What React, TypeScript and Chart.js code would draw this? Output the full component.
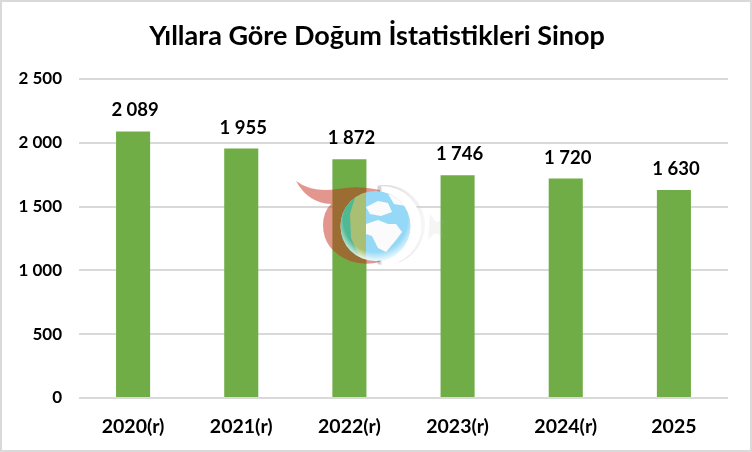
import React, { useEffect, useRef } from "react";
import { Chart, registerables } from "chart.js";

Chart.register(...registerables);

const categories = ["2020(r)", "2021(r)", "2022(r)", "2023(r)", "2024(r)", "2025"];
const births = [2089, 1955, 1872, 1746, 1720, 1630];
const titleText = "Yıllara Göre Doğum İstatistikleri Sinop";
const FONT = "Lato, 'Open Sans', sans-serif";

const fmt = (v: number) => {
  const s = String(v);
  return s.length > 3 ? s.slice(0, -3) + " " + s.slice(-3) : s;
};

const framePlugin = {
  id: "frame",
  beforeDraw(chart: any) {
    const { ctx, width, height } = chart;
    ctx.save();
    ctx.fillStyle = "#ffffff";
    ctx.fillRect(0, 0, width, height);
    ctx.strokeStyle = "#d9d9d9";
    ctx.lineWidth = 2;
    ctx.strokeRect(1, 1, width - 2, height - 2);
    ctx.restore();
  },
};

const labelPlugin = {
  id: "barLabels",
  afterDatasetsDraw(chart: any) {
    const { ctx } = chart;
    const meta = chart.getDatasetMeta(0);
    ctx.save();
    ctx.font = `700 18.5px ${FONT}`;
    ctx.fillStyle = "#000";
    ctx.textAlign = "center";
    ctx.textBaseline = "alphabetic";
    meta.data.forEach((bar: any, i: number) => {
      ctx.fillText(fmt(births[i]), bar.x + 2, bar.y - 15);
    });
    ctx.restore();
  },
};

const poly = (ctx: any, pts: number[][]) => {
  ctx.beginPath();
  pts.forEach((p, i) => (i ? ctx.lineTo(p[0], p[1]) : ctx.moveTo(p[0], p[1])));
  ctx.closePath();
  ctx.fill();
};

const watermarkPlugin = {
  id: "watermark",
  afterDraw(chart: any) {
    const { ctx } = chart;
    const cx = 375.5;
    const cy = 226;
    const r = 35;
    ctx.save();
    // faint star
    ctx.fillStyle = "rgba(176,176,176,0.12)";
    poly(ctx, [
      [430, 214],
      [436, 222],
      [447, 219],
      [440, 228],
      [445, 238],
      [435, 233],
      [428, 240],
    ]);
    // grey crescent
    const grey = ctx.createLinearGradient(376, 0, 426, 0);
    grey.addColorStop(0, "rgba(190,190,190,0.7)");
    grey.addColorStop(1, "rgba(215,215,215,0.2)");
    ctx.fillStyle = grey;
    ctx.beginPath();
    ctx.arc(385, 225, 40, -Math.PI * 0.56, Math.PI * 0.56);
    ctx.closePath();
    ctx.fill();
    // white ring between the grey crescent and the globe
    ctx.fillStyle = "#ffffff";
    ctx.beginPath();
    ctx.arc(cx + 6, cy, r + 5, -Math.PI / 2, Math.PI / 2);
    ctx.closePath();
    ctx.fill();
    // red crescent with tail
    ctx.fillStyle = "rgba(200,45,30,0.5)";
    ctx.beginPath();
    ctx.moveTo(296, 181);
    ctx.quadraticCurveTo(312, 193, 338, 189);
    ctx.quadraticCurveTo(358, 185, 380, 190);
    ctx.lineTo(380, 262);
    ctx.quadraticCurveTo(365, 266, 350, 261);
    ctx.quadraticCurveTo(323, 250, 323, 225);
    ctx.quadraticCurveTo(323, 212, 331, 204);
    ctx.quadraticCurveTo(308, 203, 296, 181);
    ctx.closePath();
    ctx.fill();
    // globe
    ctx.fillStyle = "#96d9f6";
    ctx.beginPath();
    ctx.arc(cx, cy, r, 0, Math.PI * 2);
    ctx.fill();
    ctx.beginPath();
    ctx.arc(cx, cy, r, 0, Math.PI * 2);
    ctx.clip();
    (ctx as any).filter = "blur(0.6px)";
    // land, seen through in white
    ctx.fillStyle = "#fbfbfb";
    poly(ctx, [
      [366, 224],
      [378, 220],
      [388, 224],
      [396, 224],
      [402, 232],
      [396, 240],
      [386, 252],
      [378, 248],
      [372, 236],
      [366, 234],
    ]);
    poly(ctx, [
      [366, 207],
      [378, 201],
      [388, 203],
      [392, 212],
      [381, 216],
      [370, 214],
    ]);
    poly(ctx, [
      [388, 194],
      [402, 198],
      [406, 206],
      [394, 204],
    ]);
    (ctx as any).filter = "none";
    // globe part over the bar
    ctx.fillStyle = "#a9bf73";
    ctx.fillRect(340, 188, 26, 76);
    ctx.fillStyle = "#4fb894";
    poly(ctx, [
      [340, 208],
      [356, 194],
      [350, 214],
      [351, 238],
      [360, 258],
      [342, 250],
    ]);
    // bright rim low on the globe
    const glare = ctx.createRadialGradient(cx, cy - 6, r - 3, cx, cy - 6, r + 7);
    glare.addColorStop(0, "rgba(255,255,255,0)");
    glare.addColorStop(1, "rgba(255,255,255,0.95)");
    ctx.fillStyle = glare;
    ctx.fillRect(cx - r, cy - r, r * 2, r * 2);
    ctx.restore();
  },
};

export default function App() {
  const ref = useRef<HTMLCanvasElement | null>(null);
  useEffect(() => {
    document.body.style.margin = "0";
    const chart = new Chart(ref.current as HTMLCanvasElement, {
      type: "bar",
      data: {
        labels: categories,
        datasets: [
          {
            data: births,
            backgroundColor: "#70ad47",
            barPercentage: 0.315,
            categoryPercentage: 1,
          },
        ],
      },
      plugins: [framePlugin, labelPlugin, watermarkPlugin],
      options: {
        animation: false,
        responsive: false,
        layout: { padding: { left: 2, right: 0, top: 0, bottom: 0 } },
        plugins: {
          legend: { display: false },
          tooltip: { enabled: false },
          title: {
            display: true,
            text: titleText,
            color: "#000",
            font: { family: FONT, size: 27, weight: "bold" },
            padding: { top: 20, bottom: 26.6 },
          },
        },
        scales: {
          x: {
            grid: { display: false },
            border: { display: false },
            ticks: {
              color: "#000",
              font: { family: FONT, size: 19.5, weight: "bold" },
              padding: 9,
              maxRotation: 0,
            },
            afterFit(s: any) {
              s.height = 54;
            },
          },
          y: {
            min: 0,
            max: 2500,
            border: { display: false },
            grid: { color: "#d9d9d9", lineWidth: 2, drawTicks: false },
            ticks: {
              stepSize: 500,
              color: "#000",
              padding: 17,
              font: { family: FONT, size: 17, weight: "bold" },
              callback: (v: any) => fmt(Number(v)),
            },
            afterFit(s: any) {
              s.width = 77;
            },
          },
          yRightGutter: {
            position: "right",
            display: true,
            min: 0,
            max: 1,
            border: { display: false },
            grid: { display: false, drawOnChartArea: false },
            ticks: { display: false },
            afterFit(s: any) {
              s.width = 24;
            },
          },
        },
      },
    } as any);
    return () => chart.destroy();
  }, []);
  return <canvas ref={ref} width={752} height={452} style={{ display: "block" }} />;
}
